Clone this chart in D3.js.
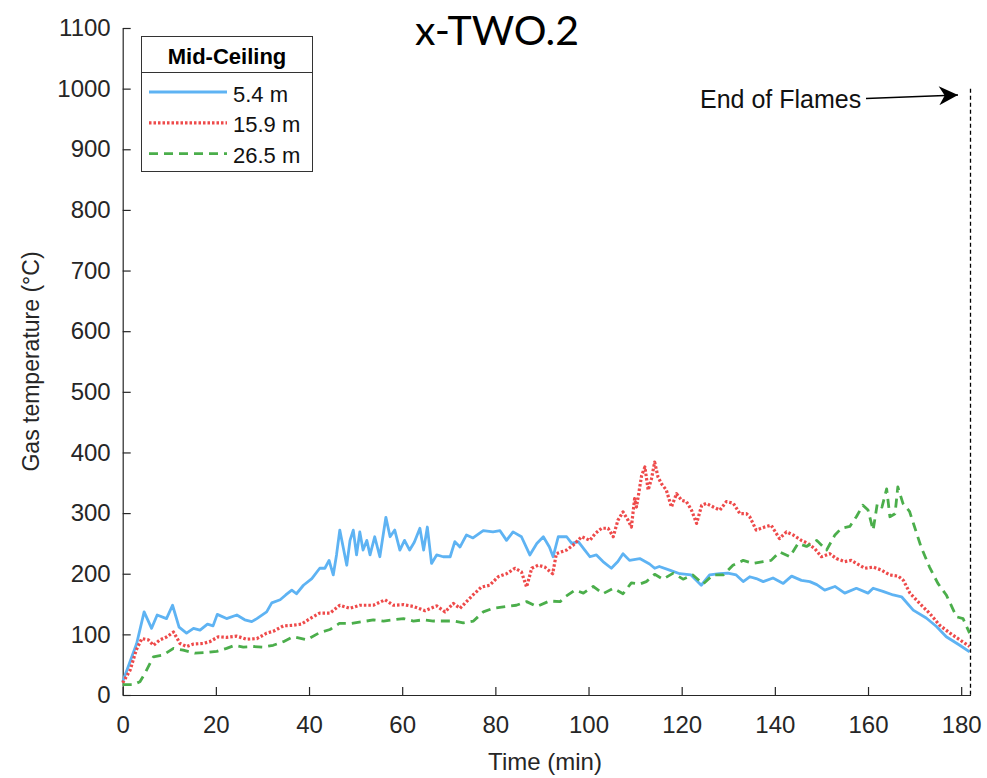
<!DOCTYPE html>
<html>
<head>
<meta charset="utf-8">
<script src="https://cdn.jsdelivr.net/npm/d3@7"></script>
<style>
  body { margin: 0; background: #fff; }
  text { font-family: "Liberation Sans", Arial, sans-serif; }
</style>
</head>
<body>
<svg id="chart" width="987" height="778"></svg>
<script>
// [time (min), temperature (°C)]
const s54 = [[0,22],[3,85],[4.6,137],[6.2,110],[7.4,132],[9.4,126],[10.7,148],[12.1,112],[13.7,102],[15.2,110],[16.6,107],[18.2,117],[19.4,114],[20.3,133],[22.3,126],[24.5,132],[26.2,124],[27.7,121],[28.8,126],[30.9,137],[32,152],[33.8,157],[35,165],[36.3,173],[37.3,167],[38.8,181],[40.6,192],[42.3,209],[43.4,209],[44.3,222],[45.2,198],[45.9,231],[46.6,272],[48.1,214],[48.8,255],[49.5,272],[50.2,231],[50.9,269],[51.6,239],[52.4,255],[53.1,231],[54.1,261],[55.2,228],[56.5,293],[57.4,261],[58.4,272],[59.5,239],[60.5,255],[61.6,239],[62.6,252],[63.8,275],[64.6,239],[65.4,277],[66.3,217],[67.4,231],[68.8,228],[70.3,228],[71.3,253],[72.4,244],[73.8,264],[75.2,259],[77.4,271],[79.5,269],[81,271],[82.4,255],[83.8,269],[85.6,261],[87.4,231],[88.9,250],[90.3,261],[91.6,244],[92.4,228],[93.5,261],[95.3,261],[96.4,250],[97.8,253],[99.2,239],[100.3,228],[101.7,231],[103.1,220],[104.9,209],[106.3,220],[107.4,233],[108.8,222],[111,225],[113.1,216],[114.2,209],[115.2,212],[117.4,206],[119.6,200],[122,198],[124.2,181],[126,198],[128.1,200],[129.9,201],[131.7,198],[133.2,187],[134.6,195],[136,192],[137.5,187],[139.6,193],[141.8,184],[143.6,196],[145.7,189],[147.5,187],[149,182],[150.7,173],[152.9,179],[155,168],[157.5,176],[160,168],[161.1,176],[163.2,171],[165.4,165],[167.2,162],[169.7,140],[172.5,127],[174.7,113],[176.8,96],[179.7,82],[181.8,71]];

const s159 = [[0,20],[1.6,41],[2.9,74],[4.1,93],[5.5,91],[6.6,82],[8,91],[9.5,96],[10.9,104],[12.3,85],[13.7,80],[15.2,84],[17.3,85],[18.7,88],[20.5,96],[22.3,95],[24.5,97],[26.6,92],[28.8,93],[30.9,102],[32.3,105],[34.5,114],[36.6,115],[38.4,117],[40.2,126],[42.3,135],[44.5,135],[46.6,148],[48.8,143],[50.9,148],[53.8,148],[56.3,157],[58.1,148],[60.3,149],[62.4,146],[64.9,139],[67.4,147],[69.2,137],[71,151],[72.4,143],[73.8,154],[75.2,165],[77,178],[78.8,181],[80.6,195],[82.4,200],[84.2,209],[85.6,203],[86.7,178],[87.8,209],[89.2,214],[90.6,211],[92.3,200],[93.1,233],[95.3,239],[96.7,247],[98.5,261],[100.3,255],[101.4,266],[102.8,275],[104.2,275],[105.3,261],[106.3,288],[107.4,302],[108.5,288],[109.2,277],[109.9,324],[110.3,310],[111.4,362],[112.1,376],[112.8,338],[113.5,356],[114.2,384],[114.9,360],[115.6,349],[116.7,338],[117.8,310],[118.9,332],[120,321],[121,319],[122.1,305],[123.2,283],[124.3,313],[125.3,316],[126.8,310],[128.2,305],[129.6,319],[131.1,316],[132.5,299],[133.9,299],[134.6,294],[136,272],[137.8,277],[139.2,280],[141,258],[142.5,269],[143.9,264],[145.7,255],[147.1,250],[148.6,241],[150,228],[151.8,233],[153.2,225],[155,220],[156.4,222],[158.2,214],[159.3,209],[161.1,211],[162.9,206],[164.7,198],[166.5,196],[167.6,189],[169,168],[171.1,151],[173.3,134],[175.4,115],[177.6,102],[179.7,91],[181.8,80]];

const s265 = [[0,17],[2.3,17],[3.7,22],[4.8,36],[6.6,63],[8.7,66],[10.9,77],[13,74],[15.5,69],[18,70],[20.2,72],[22.3,77],[24.1,82],[25.9,79],[28,80],[30.2,79],[32.3,82],[34.5,88],[36.6,96],[39.5,91],[42.3,103],[44.5,108],[46.5,118],[49,118],[51.6,121],[53.8,124],[56,122],[58.1,124],[60.3,126],[62.4,122],[64.6,124],[66.7,122],[68.9,122],[71,122],[73.1,119],[75.3,122],[77.4,137],[79.5,143],[82.4,146],[84.5,148],[86.7,154],[88.9,146],[91.6,155],[93.9,154],[95,162],[97.1,173],[98.9,168],[101,179],[103.1,167],[105.3,176],[107.4,167],[109.2,185],[111,183],[112.4,187],[114.2,199],[116,191],[118.2,201],[120.3,191],[122.4,198],[124.6,183],[126.7,198],[128.9,198],[131,214],[133.2,222],[135.3,217],[137.5,220],[139.2,222],[141,236],[143.2,228],[145,250],[146.8,245],[149,255],[151.1,239],[152.9,264],[154.3,275],[156.1,278],[157.5,294],[158.9,313],[160,305],[161.1,272],[162,316],[163,310],[164,340],[164.7,294],[165.8,299],[166.4,343],[167.5,316],[168.9,303],[170,277],[171.4,244],[173.2,211],[175,184],[176.8,165],[179,129],[180.4,126],[181.8,102]];

const seriesNames = ['5.4 m', '15.9 m', '26.5 m'];
const xTicks = [0, 20, 40, 60, 80, 100, 120, 140, 160, 180];
const yTicks = [0, 100, 200, 300, 400, 500, 600, 700, 800, 900, 1000, 1100];
const endOfFlames = 182;

const series = [
  { name: seriesNames[0], data: s54, color: '#5eb3f3', dash: null, width: 2.8 },
  { name: seriesNames[1], data: s159, color: '#ee4a4a', dash: '2.5,2', width: 3.2 },
  { name: seriesNames[2], data: s265, color: '#4bae4b', dash: '9,6', width: 2.8 }
];

const svg = d3.select('#chart');
const axisColor = '#262626';

const x = d3.scaleLinear().domain([0, 182]).range([122.7, 970.5]);
const y = d3.scaleLinear().domain([0, 1100]).range([695, 28]);

// axes, ticks point inward like MATLAB
const xAxis = svg.append('g')
  .attr('transform', `translate(0, ${y(0)})`)
  .call(d3.axisBottom(x).tickValues(xTicks).tickFormat(d3.format('d'))
    .tickSizeInner(-8).tickSizeOuter(0).tickPadding(21));
const yAxis = svg.append('g')
  .attr('transform', `translate(${x(0)}, 0)`)
  .call(d3.axisLeft(y).tickValues(yTicks).tickFormat(d3.format('d'))
    .tickSizeInner(-8).tickSizeOuter(0).tickPadding(12));

[xAxis, yAxis].forEach(g => {
  g.select('.domain').attr('stroke', axisColor).attr('stroke-width', 1.2);
  g.selectAll('.tick line').attr('stroke', axisColor).attr('stroke-width', 1.2);
  g.selectAll('.tick text').attr('fill', axisColor).style('font-size', '24px')
    .style('font-family', '"Liberation Sans", Arial, sans-serif');
});

// lines
const line = d3.line().x(d => x(d[0])).y(d => y(d[1]));
series.forEach(s => {
  svg.append('path')
    .datum(s.data)
    .attr('d', line)
    .attr('fill', 'none')
    .attr('stroke', s.color)
    .attr('stroke-width', s.width)
    .attr('stroke-linejoin', 'round')
    .attr('stroke-dasharray', s.dash);
});

// end of flames marker
svg.append('line')
  .attr('x1', x(endOfFlames)).attr('x2', x(endOfFlames))
  .attr('y1', y(1000)).attr('y2', y(0))
  .attr('stroke', '#000').attr('stroke-width', 1.3).attr('stroke-dasharray', '4,3');

svg.append('defs').append('marker')
  .attr('id', 'arrow')
  .attr('viewBox', '0 0 10 10')
  .attr('refX', 10).attr('refY', 5)
  .attr('markerWidth', 25).attr('markerHeight', 19)
  .attr('markerUnits', 'userSpaceOnUse')
  .attr('orient', 'auto')
  .append('path').attr('d', 'M0,0 L10,5 L0,10 L3,5 Z').attr('fill', '#000');

svg.append('line')
  .attr('x1', 866).attr('y1', 98.5)
  .attr('x2', 958).attr('y2', 95)
  .attr('stroke', '#000').attr('stroke-width', 1.3)
  .attr('marker-end', 'url(#arrow)');

svg.append('text').attr('x', 700).attr('y', 108)
  .style('font-size', '25px').attr('fill', '#111').text('End of Flames');

// legend
const lg = svg.append('g');
lg.append('rect').attr('x', 141.5).attr('y', 36.5).attr('width', 171).attr('height', 135)
  .attr('fill', '#fff').attr('stroke', '#333').attr('stroke-width', 1);
lg.append('line').attr('x1', 141.5).attr('x2', 312.5).attr('y1', 72.5).attr('y2', 72.5)
  .attr('stroke', '#333').attr('stroke-width', 1);
lg.append('text').attr('x', 227).attr('y', 64).attr('text-anchor', 'middle')
  .style('font-size', '22px').style('font-weight', 'bold').attr('fill', '#000').text('Mid-Ceiling');
series.forEach((s, i) => {
  const yy = 92 + i * 30.8;
  lg.append('line').attr('x1', 149).attr('x2', 227).attr('y1', yy).attr('y2', yy)
    .attr('stroke', s.color).attr('stroke-width', s.width).attr('stroke-dasharray', s.dash);
  lg.append('text').attr('x', 233).attr('y', yy + 9.5)
    .style('font-size', '22px').attr('fill', '#111').text(s.name);
});

// titles
svg.append('text').attr('x', 497).attr('y', 45).attr('text-anchor', 'middle')
  .style('font-family', 'Lato, "Open Sans", sans-serif').style('font-size', '41px')
  .attr('fill', '#000').text('x-TWO.2');

svg.append('text').attr('x', 545).attr('y', 770).attr('text-anchor', 'middle')
  .style('font-size', '24px').attr('fill', axisColor).text('Time (min)');

svg.append('text')
  .attr('transform', `translate(39, ${(y(0) + y(1100)) / 2}) rotate(-90)`)
  .attr('text-anchor', 'middle')
  .style('font-size', '23px').attr('fill', axisColor).text('Gas temperature (°C)');
</script>
</body>
</html>
